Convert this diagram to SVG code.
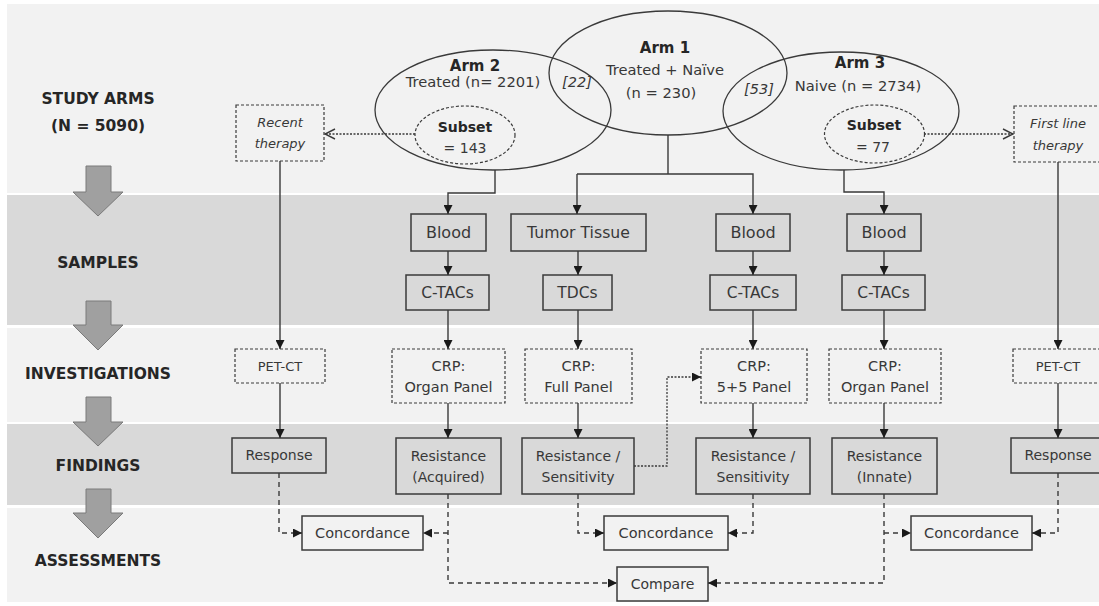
<svg xmlns="http://www.w3.org/2000/svg" width="1099" height="606" viewBox="0 0 1099 606">
<defs>
<style>
.band-l{fill:#f2f2f2}
.band-d{fill:#d9d9d9}
.big{fill:#a0a0a0;stroke:#7a7a7a;stroke-width:1}
.lbl{font-family:"DejaVu Sans",sans-serif;font-weight:bold;font-size:15.5px;fill:#262626;text-anchor:middle}
.t{font-family:"DejaVu Sans",sans-serif;fill:#383838;text-anchor:middle}
.tb{font-family:"DejaVu Sans",sans-serif;font-weight:bold;fill:#262626;text-anchor:middle}
.ti{font-family:"DejaVu Sans",sans-serif;font-style:italic;fill:#383838;text-anchor:middle}
.gb{fill:#d9d9d9;stroke:#3a3a3a;stroke-width:1.5}
.db{fill:#f2f2f2;stroke:#3a3a3a;stroke-width:1.2;stroke-dasharray:3 2}
.lb{fill:#f2f2f2;stroke:#3a3a3a;stroke-width:1.5}
.ell{fill:none;stroke:#3a3a3a;stroke-width:1.3}
.elld{fill:none;stroke:#3a3a3a;stroke-width:1.2;stroke-dasharray:3 2}
.c{fill:none;stroke:#3a3a3a;stroke-width:1.4}
.cd{fill:none;stroke:#3a3a3a;stroke-width:1.4;stroke-dasharray:5 4}
.co{fill:none;stroke:#3a3a3a;stroke-width:1.3;stroke-dasharray:2 1.5}
</style>
<marker id="ah" viewBox="0 0 10 10" refX="10" refY="5" markerWidth="9" markerHeight="9" markerUnits="userSpaceOnUse" orient="auto"><path d="M0,0 L10,5 L0,10 z" fill="#1a1a1a"/></marker>
<marker id="oh" viewBox="0 0 12 12" refX="11" refY="6" markerWidth="12" markerHeight="12" markerUnits="userSpaceOnUse" orient="auto"><path d="M1,1 L11,6 L1,11" fill="none" stroke="#3a3a3a" stroke-width="1.4"/></marker>
</defs>

<g id="bands">
<rect class="band-l" x="7" y="4" width="1092" height="189"/>
<rect class="band-d" x="7" y="195" width="1092" height="130"/>
<rect class="band-l" x="7" y="328" width="1092" height="94"/>
<rect class="band-d" x="7" y="424" width="1092" height="81"/>
<rect class="band-l" x="7" y="508" width="1092" height="94"/>
</g>

<g id="stage-arrows">
<path class="big" d="M86,166 H111 V192 H123 L98,216 L73,192 H86 Z"/>
<path class="big" d="M86,301 H111 V325 H123 L98,350 L73,325 H86 Z"/>
<path class="big" d="M86,397 H111 V422 H123 L98,446 L73,422 H86 Z"/>
<path class="big" d="M86,489 H111 V513 H123 L98,538 L73,513 H86 Z"/>
</g>

<g id="stage-labels">
<text class="lbl" x="98" y="104">STUDY ARMS</text>
<text class="lbl" x="98" y="131">(N = 5090)</text>
<text class="lbl" x="98" y="268">SAMPLES</text>
<text class="lbl" x="98" y="379">INVESTIGATIONS</text>
<text class="lbl" x="98" y="471">FINDINGS</text>
<text class="lbl" x="98" y="566">ASSESSMENTS</text>
</g>

<g id="arm2">
<ellipse class="ell" cx="493" cy="110" rx="118" ry="60"/>
<text class="tb" x="475" y="71" font-size="15">Arm 2</text>
<text class="t" x="473" y="87" font-size="14.7">Treated (n= 2201)</text>
</g>
<g id="arm1">
<ellipse class="ell" cx="668" cy="73" rx="119" ry="62"/>
<text class="tb" x="665" y="53" font-size="15">Arm 1</text>
<text class="t" x="665" y="75" font-size="14.7">Treated + Naïve</text>
<text class="t" x="661" y="98" font-size="14.7">(n = 230)</text>
</g>
<g id="arm3">
<ellipse class="ell" cx="841" cy="111" rx="118" ry="59"/>
<text class="tb" x="860" y="68" font-size="15">Arm 3</text>
<text class="t" x="858" y="91" font-size="14.7">Naive (n = 2734)</text>
</g>
<g id="overlap-labels">
<text class="ti" x="577" y="87" font-size="14.5">[22]</text>
<text class="ti" x="759" y="94" font-size="14.5">[53]</text>
</g>
<g id="subset143">
<ellipse class="elld" cx="465" cy="135" rx="50" ry="29"/>
<text class="tb" x="465" y="132" font-size="14">Subset</text>
<text class="t" x="465" y="153" font-size="14">= 143</text>
</g>
<g id="subset77">
<ellipse class="elld" cx="874.5" cy="134" rx="50" ry="29"/>
<text class="tb" x="874" y="130" font-size="14">Subset</text>
<text class="t" x="873" y="152" font-size="14">= 77</text>
</g>
<g id="recent-therapy">
<rect class="db" x="236" y="105" width="88" height="56"/>
<text class="ti" x="280" y="127" font-size="13">Recent</text>
<text class="ti" x="280" y="148" font-size="13">therapy</text>
</g>
<g id="first-line-therapy">
<rect class="db" x="1014" y="106" width="88" height="56"/>
<text class="ti" x="1058" y="128" font-size="13">First line</text>
<text class="ti" x="1058" y="150" font-size="13">therapy</text>
</g>

<g id="blood1"><rect class="gb" x="411" y="214" width="75" height="37"/><text class="t" x="448.5" y="238" font-size="16">Blood</text></g>
<g id="ctacs1"><rect class="gb" x="406" y="275" width="83" height="35"/><text class="t" x="447.5" y="298" font-size="15.5">C-TACs</text></g>
<g id="tumor"><rect class="gb" x="511" y="214" width="135" height="37"/><text class="t" x="578.5" y="238" font-size="15.7">Tumor Tissue</text></g>
<g id="tdcs"><rect class="gb" x="543" y="275" width="69" height="35"/><text class="t" x="577.5" y="298" font-size="15.5">TDCs</text></g>
<g id="blood3"><rect class="gb" x="716" y="214" width="74" height="37"/><text class="t" x="753" y="238" font-size="16">Blood</text></g>
<g id="ctacs3"><rect class="gb" x="710" y="275" width="86" height="35"/><text class="t" x="753" y="298" font-size="15.5">C-TACs</text></g>
<g id="blood4"><rect class="gb" x="847" y="214" width="74" height="37"/><text class="t" x="884" y="238" font-size="16">Blood</text></g>
<g id="ctacs4"><rect class="gb" x="842" y="275" width="83" height="35"/><text class="t" x="883.5" y="298" font-size="15.5">C-TACs</text></g>

<g id="petct1"><rect class="db" x="235" y="349" width="90" height="34"/><text class="t" x="280" y="371" font-size="13">PET-CT</text></g>
<g id="crp-organ1"><rect class="db" x="392" y="349" width="113" height="54"/><text class="t" x="448.5" y="371" font-size="14.5">CRP:</text><text class="t" x="448.5" y="392" font-size="14.5">Organ Panel</text></g>
<g id="crp-full"><rect class="db" x="525" y="349" width="107" height="54"/><text class="t" x="578.5" y="371" font-size="14.5">CRP:</text><text class="t" x="578.5" y="392" font-size="14.5">Full Panel</text></g>
<g id="crp-55"><rect class="db" x="701" y="349" width="106" height="54"/><text class="t" x="754" y="371" font-size="14.5">CRP:</text><text class="t" x="754" y="392" font-size="14.5">5+5 Panel</text></g>
<g id="crp-organ2"><rect class="db" x="829" y="349" width="112" height="54"/><text class="t" x="885" y="371" font-size="14.5">CRP:</text><text class="t" x="885" y="392" font-size="14.5">Organ Panel</text></g>
<g id="petct2"><rect class="db" x="1013" y="349" width="90" height="34"/><text class="t" x="1058" y="371" font-size="13">PET-CT</text></g>

<g id="response1"><rect class="gb" x="232" y="438" width="94" height="35"/><text class="t" x="279" y="460" font-size="14">Response</text></g>
<g id="res-acquired"><rect class="gb" x="396" y="438" width="105" height="56"/><text class="t" x="448.5" y="461" font-size="14">Resistance</text><text class="t" x="448.5" y="482" font-size="14">(Acquired)</text></g>
<g id="res-sens1"><rect class="gb" x="522" y="438" width="112" height="56"/><text class="t" x="578" y="461" font-size="14">Resistance /</text><text class="t" x="578" y="482" font-size="14">Sensitivity</text></g>
<g id="res-sens2"><rect class="gb" x="696" y="438" width="114" height="56"/><text class="t" x="753" y="461" font-size="14">Resistance /</text><text class="t" x="753" y="482" font-size="14">Sensitivity</text></g>
<g id="res-innate"><rect class="gb" x="832" y="438" width="105" height="56"/><text class="t" x="884.5" y="461" font-size="14">Resistance</text><text class="t" x="884.5" y="482" font-size="14">(Innate)</text></g>
<g id="response2"><rect class="gb" x="1011" y="438" width="94" height="35"/><text class="t" x="1058" y="460" font-size="14">Response</text></g>

<g id="concordance1"><rect class="lb" x="302" y="516" width="121" height="34"/><text class="t" x="362.5" y="538" font-size="14.5">Concordance</text></g>
<g id="concordance2"><rect class="lb" x="604" y="516" width="124" height="34"/><text class="t" x="666" y="538" font-size="14.5">Concordance</text></g>
<g id="concordance3"><rect class="lb" x="911" y="516" width="121" height="34"/><text class="t" x="971.5" y="538" font-size="14.5">Concordance</text></g>
<g id="compare"><rect class="lb" x="617" y="567" width="91" height="34"/><text class="t" x="662.5" y="589" font-size="14">Compare</text></g>

<g id="connectors">
<path class="c" d="M280,161 V349" marker-end="url(#ah)"/>
<path class="c" d="M1058,162 V349" marker-end="url(#ah)"/>
<path class="c" d="M280,383 V438" marker-end="url(#ah)"/>
<path class="c" d="M1058,383 V438" marker-end="url(#ah)"/>
<path class="c" d="M495,170 V193 H448 V214" marker-end="url(#ah)"/>
<path class="c" d="M668,135 V174"/>
<path class="c" d="M577,174 H753 V214" marker-end="url(#ah)"/>
<path class="c" d="M577,174 V214" marker-end="url(#ah)"/>
<path class="c" d="M844,170 V192 H884 V214" marker-end="url(#ah)"/>
<path class="c" d="M448,251 V275" marker-end="url(#ah)"/>
<path class="c" d="M448,310 V349" marker-end="url(#ah)"/>
<path class="c" d="M448,403 V438" marker-end="url(#ah)"/>
<path class="c" d="M578,251 V275" marker-end="url(#ah)"/>
<path class="c" d="M578,310 V349" marker-end="url(#ah)"/>
<path class="c" d="M578,403 V438" marker-end="url(#ah)"/>
<path class="c" d="M753,251 V275" marker-end="url(#ah)"/>
<path class="c" d="M753,310 V349" marker-end="url(#ah)"/>
<path class="c" d="M753,403 V438" marker-end="url(#ah)"/>
<path class="c" d="M884,251 V275" marker-end="url(#ah)"/>
<path class="c" d="M884,310 V349" marker-end="url(#ah)"/>
<path class="c" d="M884,403 V438" marker-end="url(#ah)"/>
<path class="co" d="M415,134 H325" marker-end="url(#oh)"/>
<path class="co" d="M924,134 H1013" marker-end="url(#oh)"/>
<path class="co" d="M634,466 H667 V377 H701" marker-end="url(#ah)"/>
<path class="cd" d="M279,473 V533 H302" marker-end="url(#ah)"/>
<path class="cd" d="M448,494 V583 H617" marker-end="url(#ah)"/>
<path class="cd" d="M448,533 H423" marker-end="url(#ah)"/>
<path class="cd" d="M578,494 V533 H604" marker-end="url(#ah)"/>
<path class="cd" d="M753,494 V533 H728" marker-end="url(#ah)"/>
<path class="cd" d="M884,494 V583 H708" marker-end="url(#ah)"/>
<path class="cd" d="M884,533 H911" marker-end="url(#ah)"/>
<path class="cd" d="M1058,473 V533 H1032" marker-end="url(#ah)"/>
</g>
</svg>
